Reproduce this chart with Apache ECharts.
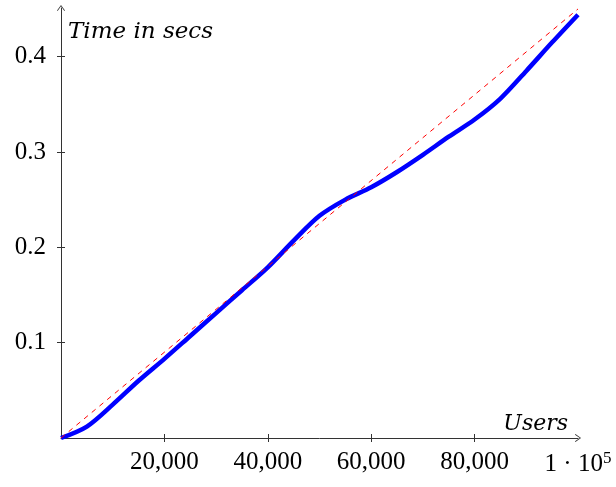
<!DOCTYPE html>
<html>
<head>
<meta charset="utf-8">
<script src="https://cdn.jsdelivr.net/npm/echarts@6/dist/echarts.min.js"></script>
<style>
html,body{margin:0;padding:0;background:#fff;}
#c{width:616px;height:487px;}
</style>
</head>
<body>
<div id="c"></div>
<script>
// Data
const users = [0, 5000, 10000, 15000, 20000, 25000, 30000, 35000, 40000, 45000, 50000,
               55000, 60000, 65000, 70000, 75000, 80000, 85000, 90000, 95000, 100000];
const timeSecs = [0, 0.012, 0.035, 0.060, 0.083, 0.107, 0.131, 0.155, 0.179, 0.207, 0.233,
                  0.250, 0.263, 0.279, 0.297, 0.316, 0.334, 0.356, 0.385, 0.415, 0.444];
const refUsers = [0, 100000];
const refTime = [0, 0.45];
const xTicks = [20000, 40000, 60000, 80000, 100000];
const xTickMarks = [20000, 40000, 60000, 80000];
const yTicks = [0.1, 0.2, 0.3, 0.4];

const FONT = '"Liberation Serif", "DejaVu Serif", serif';
const IFONT = '"DejaVu Serif", serif';
const AX = '#333';
const arrow = 'path://M0,0 L5,7 L4.2,7.6 L0,1.6 L-4.2,7.6 L-5,7 Z';

const mainSeries = users.map((u, i) => [u, timeSecs[i]]);
const refSeries = refUsers.map((u, i) => [u, refTime[i]]);

const chart = echarts.init(document.getElementById('c'), null, {renderer: 'canvas'});
chart.setOption({
  animation: false,
  grid: {left: 61, right: 38, top: 8, bottom: 49},
  xAxis: [{
    type: 'value', min: 0, max: 100000,
    name: 'Users', nameLocation: 'end', nameGap: -10,
    nameTextStyle: {fontFamily: IFONT, fontStyle: 'italic', fontSize: 22, color: '#000',
      align: 'right', verticalAlign: 'bottom', padding: [0, 0, 3, 0]},
    axisLine: {show: true, lineStyle: {color: AX, width: 1}, symbol: ['none', arrow], symbolSize: [8, 7]},
    axisTick: {show: true, inside: false, length: 4, customValues: xTickMarks, lineStyle: {color: AX}},
    axisLabel: {
      customValues: xTicks, margin: 12, fontFamily: FONT, fontSize: 25, color: '#000',
      formatter: v => v === 100000 ? '1 · 10{sup|5}' : v.toLocaleString('en-US'),
      rich: {sup: {fontFamily: FONT, fontSize: 17, color: '#000', verticalAlign: 'top', padding: [0, 0, 12, 0]}}
    },
    splitLine: {show: false}
  }, {
    type: 'value', min: 0, max: 100000, position: 'bottom',
    axisLine: {show: false},
    axisTick: {show: true, inside: true, length: 4, customValues: xTickMarks, lineStyle: {color: AX}},
    axisLabel: {show: false},
    splitLine: {show: false}
  }],
  yAxis: [{
    type: 'value', min: 0, max: 0.451,
    name: 'Time in secs', nameLocation: 'end', nameGap: -36,
    nameTextStyle: {fontFamily: IFONT, fontStyle: 'italic', fontSize: 23, color: '#000',
      align: 'left', verticalAlign: 'bottom', padding: [0, 0, 0, 7]},
    axisLine: {show: true, lineStyle: {color: AX, width: 1}, symbol: ['none', arrow], symbolSize: [8, 7]},
    axisTick: {show: true, inside: false, length: 4, customValues: yTicks, lineStyle: {color: AX}},
    axisLabel: {customValues: yTicks, margin: 15, fontFamily: FONT, fontSize: 25, color: '#000',
      formatter: v => v.toFixed(1)},
    splitLine: {show: false}
  }, {
    type: 'value', min: 0, max: 0.451, position: 'left',
    axisLine: {show: false},
    axisTick: {show: true, inside: true, length: 4, customValues: yTicks, lineStyle: {color: AX}},
    axisLabel: {show: false},
    splitLine: {show: false}
  }],
  series: [{
    type: 'line', data: refSeries, showSymbol: false, symbol: 'none',
    lineStyle: {color: '#ff0000', width: 1, type: [5, 5]}, z: 3
  }, {
    type: 'line', data: mainSeries, showSymbol: false, symbol: 'none', smooth: 0.3,
    lineStyle: {color: '#0000ff', width: 4.5}, z: 2
  }]
});
</script>
</body>
</html>
